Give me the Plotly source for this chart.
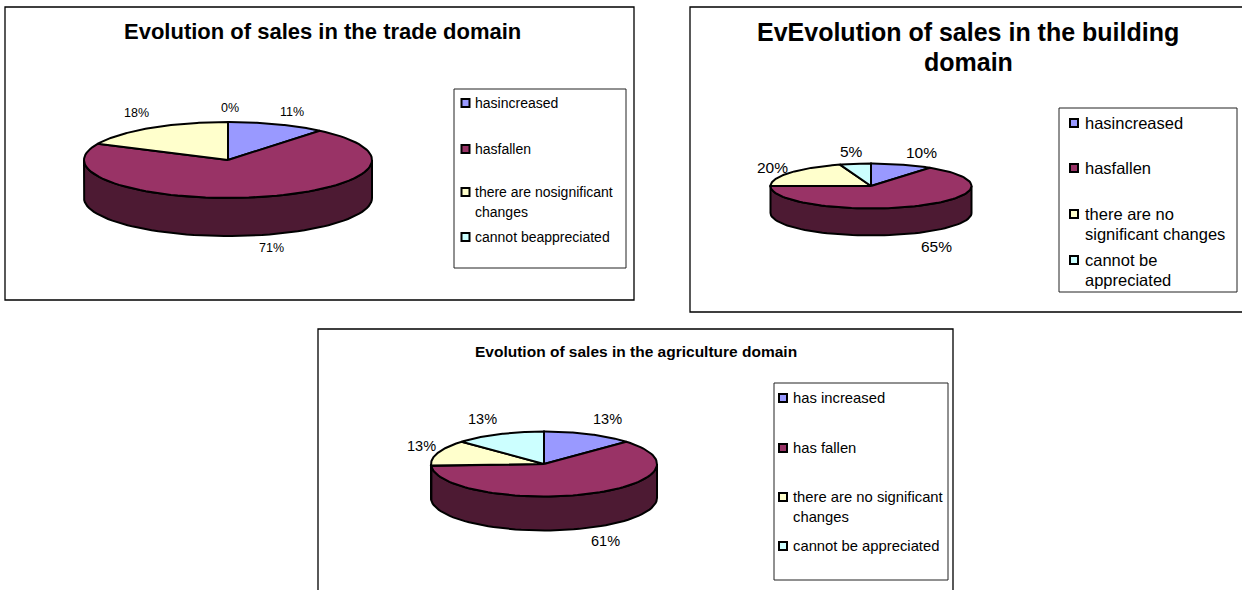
import numpy as np
import plotly.graph_objects as go

# share of answers, same order as the legend
categories = ["has increased", "has fallen", "there are no significant changes", "cannot be appreciated"]
trade_values = [11, 71, 18, 0]
building_values = [10, 65, 20, 5]
agriculture_values = [13, 61, 13, 13]

colors = ["#9999FF", "#993366", "#FFFFCC", "#CCFFFF"]
side_colors = ["#4D4D80", "#4D1A33", "#808066", "#668080"]

# one dict per chart: frame, pie ellipse, legend box, texts
charts = [
    dict(values=trade_values, frame=(5, 7, 634, 300), pie=(228, 160, 144, 38, 38),
         box=(454, 89, 626, 268),
         title=[("Evolution of sales in the trade domain", 322, 31)], title_size=22,
         labels=[(292, 112), (271, 248), (136, 113), (230, 108)], label_size=12.5,
         marks=[(465.5, 103), (465.5, 149), (465.5, 192), (465.5, 237)],
         legend=[("hasincreased", 473, 103), ("hasfallen", 473, 149),
                 ("there are nosignificant", 473, 192), ("changes", 473, 212),
                 ("cannot beappreciated", 473, 237)], legend_size=14),
    dict(values=building_values, frame=(690, 7, 1260, 312), pie=(871, 186, 100.5, 22.5, 27),
         box=(1059, 108, 1237, 292),
         title=[("EvEvolution of sales in the building", 968, 32), ("domain", 968, 62)], title_size=25,
         labels=[(921, 152), (936, 246), (772, 167), (851, 151)], label_size=15.5,
         marks=[(1074, 123), (1074, 168), (1074, 214), (1074, 260)],
         legend=[("hasincreased", 1083, 123), ("hasfallen", 1083, 168),
                 ("there are no", 1083, 214), ("significant changes", 1083, 234),
                 ("cannot be", 1083, 260), ("appreciated", 1083, 280)], legend_size=16.5),
    dict(values=agriculture_values, frame=(318, 329, 953, 610), pie=(544, 464, 113, 32.5, 34),
         box=(774, 383, 948, 580),
         title=[("Evolution of sales in the agriculture domain", 636, 351)], title_size=15.5,
         labels=[(607, 419), (605, 541), (421, 446), (482, 419)], label_size=14.5,
         marks=[(783, 398), (783, 448), (783, 497), (783, 546)],
         legend=[("has increased", 791, 398), ("has fallen", 791, 448),
                 ("there are no significant", 791, 497), ("changes", 791, 517),
                 ("cannot be appreciated", 791, 546)], legend_size=14.8),
]

FONT = "Liberation Sans, Arial, sans-serif"

fig = go.Figure()
annotations = []
shapes = []


def text(s, x, y, size, bold=False, anchor="center"):
    annotations.append(dict(x=x, y=y, xref="x", yref="y", text="<b>%s</b>" % s if bold else s,
                            showarrow=False, xanchor=anchor, yanchor="middle",
                            font=dict(family=FONT, size=size, color="black")))


def add_poly(xs, ys, color):
    fig.add_trace(go.Scatter(x=xs, y=ys, mode="lines", fill="toself", fillcolor=color,
                             line=dict(color="black", width=2), hoverinfo="skip", showlegend=False))


for c in charts:
    x0, y0, x1, y1 = c["frame"]
    shapes.append(dict(type="rect", x0=x0, y0=y0, x1=x1, y1=y1, xref="x", yref="y",
                       line=dict(color="black", width=1.3), layer="below"))
    x0, y0, x1, y1 = c["box"]
    shapes.append(dict(type="rect", x0=x0, y0=y0, x1=x1, y1=y1, xref="x", yref="y",
                       line=dict(color="#222222", width=1), layer="below"))

    cx, cy, rx, ry, depth = c["pie"]
    ends = np.cumsum(c["values"]) * 3.6
    starts = ends - np.array(c["values"]) * 3.6

    # side wall, only the part of each slice that faces the viewer (90 to 270 deg from top)
    for a0, a1, col in zip(starts, ends, side_colors):
        lo, hi = max(a0, 90), min(a1, 270)
        if hi <= lo:
            continue
        t = np.radians(np.linspace(lo, hi, 60))
        xs = cx + rx * np.sin(t)
        ys = cy - ry * np.cos(t)
        add_poly(np.r_[xs, xs[::-1], xs[0]], np.r_[ys, ys[::-1] + depth, ys[0]], col)

    # top face
    for a0, a1, col in zip(starts, ends, colors):
        if a1 == a0:
            continue
        t = np.radians(np.linspace(a0, a1, 90))
        add_poly(np.r_[cx, cx + rx * np.sin(t), cx], np.r_[cy, cy - ry * np.cos(t), cy], col)

    for v, (lx, ly) in zip(c["values"], c["labels"]):
        text("%d%%" % v, lx, ly, c["label_size"])
    for s, tx, ty in c["title"]:
        text(s, tx, ty, c["title_size"], bold=True)
    for s, tx, ty in c["legend"]:
        text(s, tx, ty, c["legend_size"], anchor="left")

    # legend swatches
    fig.add_trace(go.Scatter(x=[m[0] for m in c["marks"]], y=[m[1] for m in c["marks"]], mode="markers",
                             marker=dict(symbol="square", size=8, color=colors,
                                         line=dict(color="black", width=2)),
                             text=categories, hoverinfo="text", showlegend=False))

fig.update_layout(
    width=1242, height=590, margin=dict(l=0, r=0, t=0, b=0),
    paper_bgcolor="white", plot_bgcolor="white",
    xaxis=dict(range=[0, 1242], visible=False, fixedrange=True),
    yaxis=dict(range=[590, 0], visible=False, fixedrange=True),
    shapes=shapes, annotations=annotations, font=dict(family=FONT),
)
fig.write_html("out.html", config={"displayModeBar": False},
               post_script="document.body.style.margin='0';")
